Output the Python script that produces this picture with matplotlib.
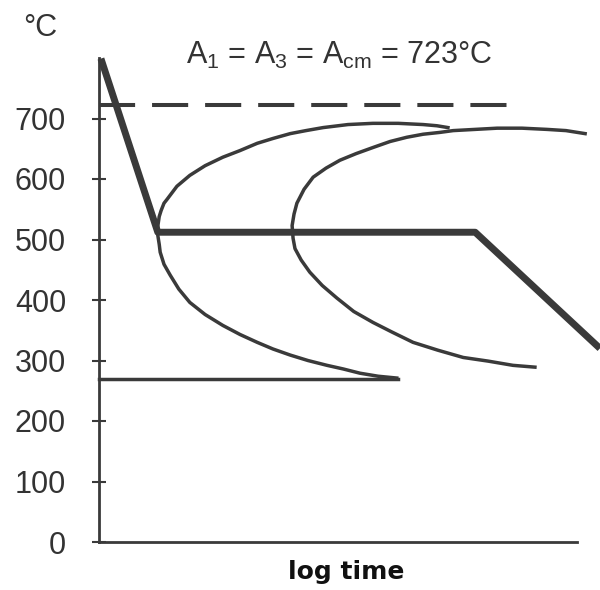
import matplotlib
matplotlib.use("Agg")
import matplotlib.pyplot as plt

# TTT diagram, x = log time (arbitrary units 0..100), y = temperature in degC
ticks_T = [0, 100, 200, 300, 400, 500, 600, 700]
A1_T = 723
Ms_T = 270

# start curve (left C), from its top end round the nose to the bottom end
start_u = [73.0, 70.7, 67.8, 62.6, 57.3, 52.1, 46.9, 43.3, 40.0, 36.4, 33.1, 29.5, 25.9,
           22.2, 19.0, 16.3, 14.2, 13.6, 13.0, 12.6, 12.3,
           12.3, 12.6, 12.8, 13.6, 14.9, 16.7, 19.0, 22.2, 25.9, 29.5, 33.1, 36.4, 40.0,
           43.7, 47.7, 51.1, 54.6, 58.4, 62.3]
start_T = [685, 688, 690, 692, 692, 690, 685, 680, 675, 667, 659, 647, 636,
           622, 606, 588, 566, 560, 548, 538, 522,
           507, 492, 479, 459, 441, 418, 396, 376, 358, 343, 330, 319, 309,
           300, 292, 286, 279, 274, 271]

# finish curve (right C)
finish_u = [101.7, 97.7, 93.7, 88.5, 83.3, 78.7, 74.1, 71.3, 67.8, 64.4, 60.9, 57.3,
            53.8, 50.4, 47.5, 44.8, 42.9, 41.4, 40.8, 40.4,
            40.6, 41.0, 42.3, 44.1, 46.7, 49.8, 53.3, 57.3, 61.3, 65.7, 70.9, 76.2,
            81.4, 86.6, 91.2]
finish_T = [675, 680, 682, 684, 684, 682, 680, 677, 674, 669, 662, 652,
            642, 631, 618, 603, 583, 560, 542, 523,
            502, 485, 466, 446, 424, 403, 381, 363, 347, 330, 317, 305,
            299, 292, 289]

# cooling path (thick line)
cool_u = [0.4, 12.3, 78.7, 104.8]
cool_T = [799, 512, 512, 320]

# Ms line and A1 dashed line extents
Ms_u = [0, 62.6]
A1_u = [0, 85.6]

ink = "#3a3a3a"
txt = "#333333"

fig = plt.figure(figsize=(6, 5.9), dpi=100)
ax = fig.add_axes([99 / 600, 48 / 590, 478 / 600, 484 / 590])

ax.plot(start_u, start_T, color=ink, lw=2.5, clip_on=False, solid_joinstyle="round")
ax.plot(finish_u, finish_T, color=ink, lw=2.5, clip_on=False, solid_joinstyle="round")
ax.plot(Ms_u, [Ms_T, Ms_T], color=ink, lw=2.5, clip_on=False)
ax.plot(cool_u, cool_T, color=ink, lw=5, clip_on=False, solid_capstyle="butt")
lw_d = 2.9
ax.plot(A1_u, [A1_T, A1_T], color=ink, lw=lw_d, dashes=(26 / lw_d, 12.2 / lw_d),
        clip_on=False, dash_capstyle="butt")

ax.set_xlim(0, 100)
ax.set_ylim(0, 800)
ax.set_xticks([])
ax.set_yticks(ticks_T)
ax.set_yticklabels([str(t) for t in ticks_T], family="Liberation Sans", fontsize=22, color=txt)
ax.tick_params(axis="y", direction="inout", length=9.4, width=1.5, color=ink, pad=19)
for s in ["top", "right"]:
    ax.spines[s].set_visible(False)
for s in ["left", "bottom"]:
    ax.spines[s].set_color(ink)
    ax.spines[s].set_linewidth(2)

plt.rcParams["mathtext.fontset"] = "custom"
plt.rcParams["mathtext.rm"] = "Liberation Sans"
plt.rcParams["mathtext.it"] = "Liberation Sans"

fig.text(40 / 600, 1 - 28 / 590, "°C", family="Liberation Sans", fontsize=22,
         color=txt, ha="center", va="center")
fig.text(339 / 600, 1 - 55 / 590, r"A$_\mathrm{1}$ = A$_\mathrm{3}$ = A$_\mathrm{cm}$ = 723°C",
         family="Liberation Sans", fontsize=22, color=txt, ha="center", va="center")
fig.text(346 / 600, 1 - 572 / 590, "log time", family="DejaVu Sans", fontweight="bold",
         fontsize=18, color="#111111", ha="center", va="center")

fig.savefig("out.png", dpi=100)
